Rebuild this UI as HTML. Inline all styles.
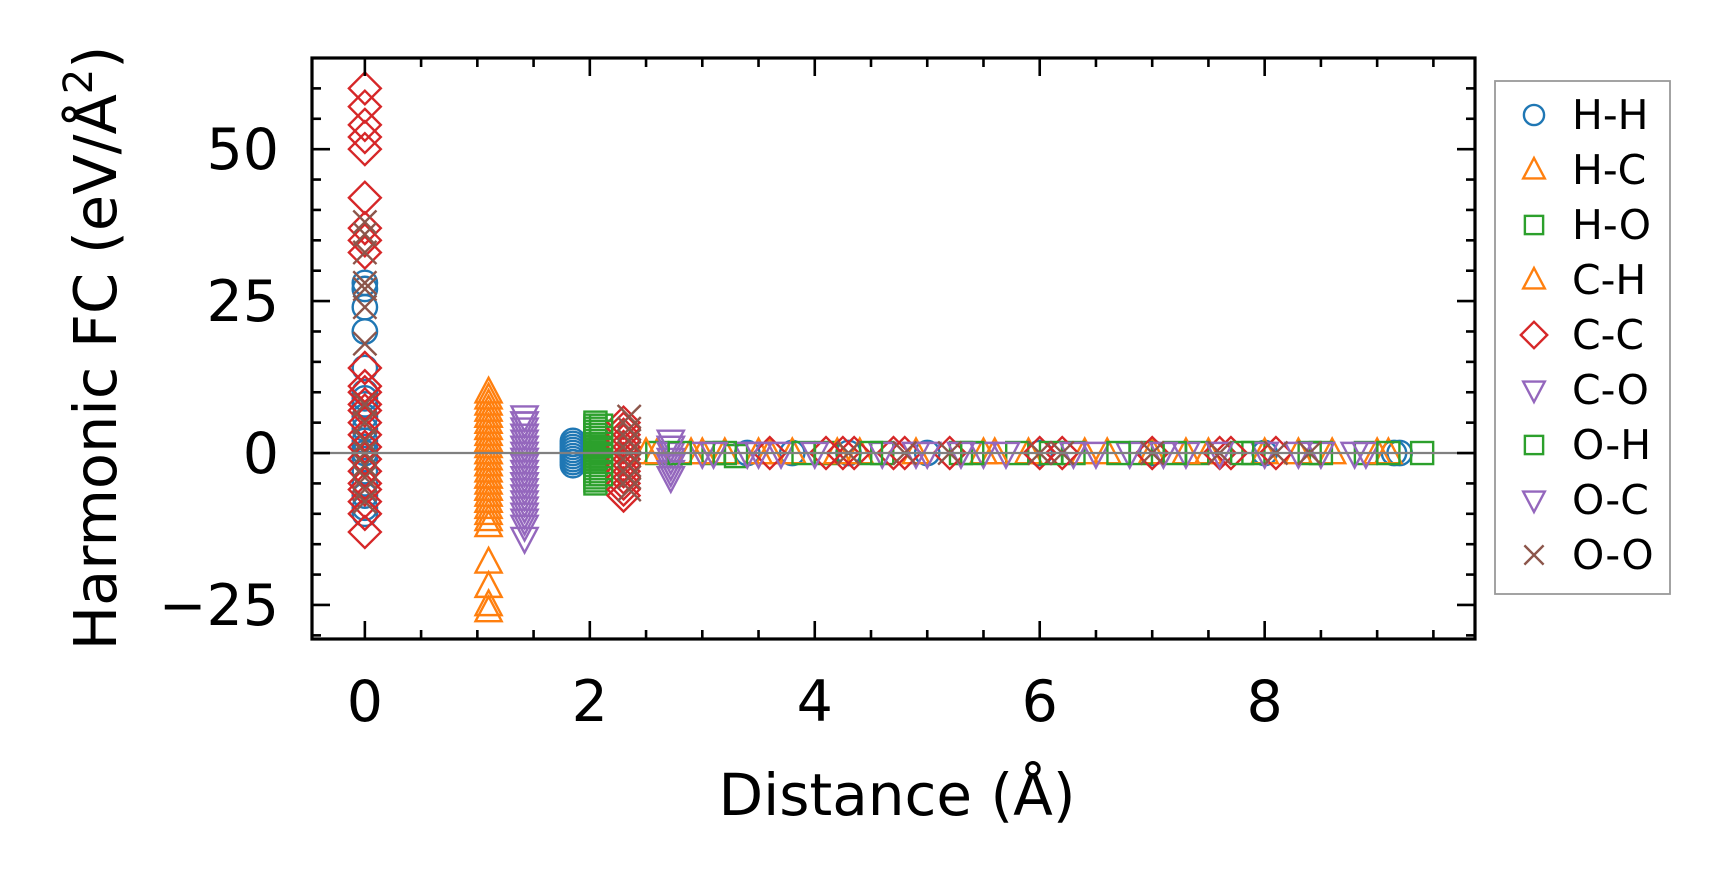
<!DOCTYPE html>
<html><head><meta charset="utf-8"><style>
html,body{margin:0;padding:0;background:#fff;}
svg{display:block;font-family:"DejaVu Sans","Liberation Sans",sans-serif;}
</style></head><body>
<svg id="chart" width="1729" height="883" viewBox="0 0 1729 883" xmlns="http://www.w3.org/2000/svg">
<g id="marks"></g>
<g id="axes"></g>
<text x="897" y="815" font-size="58" text-anchor="middle">Distance (Å)</text>
<text transform="translate(116,348) rotate(-90)" font-size="59" text-anchor="middle">Harmonic FC (eV/Å<tspan font-size="40" dy="-24">2</tspan><tspan dy="24">)</tspan></text>
<g id="legend"></g>
</svg>
<script>
const xMin=-0.47, xMax=9.87, yMin=-30.6, yMax=65;
const xTicks=[0,2,4,6,8];
const yTicks=[-25,0,25,50];
const yTickLabels=["\u221225","0","25","50"];
const seriesNames=["H-H","H-C","H-O","C-H","C-C","C-O","O-H","O-C","O-O"];
const seriesColors=["#1f77b4","#ff7f0e","#2ca02c","#ff7f0e","#d62728","#9467bd","#2ca02c","#9467bd","#8c564b"];
const seriesMarkers=["circle","tri-up","square","tri-up","diamond","tri-down","square","tri-down","x"];
const hhX=[0,0,0,0,0,0,0,0,0,0,0,0,0,0,0,0,0,0,0,1.85,1.85,1.85,1.85,1.85,1.85,1.85,1.85,1.85,3.4,3.8,4.3,5.0,6.0,7.0,8.0,9.15,9.2];
const hhY=[28,27,24,20,14,10,9,8,6,4,2,1,0,-1,-3,-5,-7,-9,-10,2,1.5,1,0.5,0,-0.5,-1,-1.5,-2,0,0,0,0,0,0,0,0,0];
const hcX=[1.1,1.1,1.1,1.1,1.1,1.1,1.1,1.1,1.1,1.1,1.1,1.1,1.1,1.1,1.1,1.1,1.1,1.1,1.1,1.1,1.1,1.1,1.1,1.1,1.1,2.6,2.9,3.2,3.5,3.8,4.4,4.9,5.5,5.9,6.4,7.0,7.5,8.0,8.6,9.1];
const hcY=[10,8,7,6,5,4,3,2,1,0,-1,-2,-3,-4,-5,-6,-7,-8,-9,-10,-12,-18,-22,-25,-26,0,0,0,0,0,0,0,0,0,0,0,0,0,0,0];
const hoX=[2.05,2.05,2.05,2.05,2.05,2.05,2.05,2.05,2.05,2.05,2.05,2.05,2.05,2.05,2.05,2.05,2.05,2.05,2.05,2.05,2.05,2.6,3.1,3.3,4.1,4.6,5.3,5.8,6.3,6.9,7.4,7.9,8.5,8.9,9.4];
const hoY=[5,4.5,4,3.5,3,2.5,2,1.5,1,0.5,0,-0.5,-1,-1.5,-2,-2.5,-3,-3.5,-4,-4.5,-5,0,0,-0.5,0,0,0,0,0,0,0,0,0,0,0];
const chX=[1.1,1.1,1.1,1.1,1.1,1.1,1.1,1.1,1.1,1.1,2.5,3.0,3.6,4.2,5.6,6.6,7.3,8.3,9.0];
const chY=[9,6,4,2,0,-2,-4,-6,-8,-11,0,0,0,0,0,0,0,0,0];
const ccX=[0,0,0,0,0,0,0,0,0,0,0,0,0,0,0,0,0,0,0,0,0,0,0,0,2.3,2.3,2.3,2.3,2.3,2.3,2.3,2.3,2.3,2.3,2.3,2.3,2.3,3.6,4.1,4.25,4.35,4.7,4.8,5.2,6.0,6.2,7.0,7.6,7.7,8.1];
const ccY=[60,57,54,52,50,42,37,35,33,14,11,10,8,7,5,3,1,-1,-3,-5,-6,-8,-10,-13,5,4,3,2,1,0,-1,-2,-3,-4,-5,-6,-7,0,0,0,0,0,0,0,0,0,0,0,0,0];
const coX=[1.42,1.42,1.42,1.42,1.42,1.42,1.42,1.42,1.42,1.42,1.42,1.42,1.42,1.42,1.42,1.42,1.42,2.72,2.72,2.72,2.72,2.72,2.72,2.72,3.0,3.4,3.7,4.6,5.0,5.5,6.5,6.8,7.3,8.0,8.5,8.9];
const coY=[6,5,4,3,2,1,0,-1,-2,-3,-4,-5,-6,-8,-10,-12,-14,2,1,0,-1,-2,-3,-4,0,0,0,0,0,0,0,0,0,0,0,0];
const ohX=[2.1,2.1,2.1,2.1,2.1,2.1,2.1,2.1,2.1,2.8,3.2,3.9,4.5,5.4,6.1,6.7,7.2,7.8,8.4,9.1];
const ohY=[4.5,3.5,2.5,1.5,0.5,-0.5,-1.5,-2.5,-3.5,0,0,0,0,0,0,0,0,0,0,0];
const ocX=[1.42,1.42,1.42,1.42,1.42,1.42,1.42,1.42,1.42,2.72,2.72,3.1,3.5,4.0,4.9,5.3,5.7,6.3,7.1,7.6,8.3,8.8];
const ocY=[5,3,1,-1,-3,-5,-7,-9,-11,1,-2,0,0,0,0,0,0,0,0,0,0,0];
const ooX=[0,0,0,0,0,0,0,0,0,0,0,0,0,0,0,2.35,2.35,2.35,2.35,2.35,2.35,2.35,4.3,4.8,5.2,6.0,6.2,7.0,7.6,8.1,8.4];
const ooY=[38,36,33,28,27,24,18,8,5,2,0,-2,-4,-6,-8,6,4,2,0,-2,-4,-6,0,0,0,0,0,0,0,0,0];
const seriesX=[hhX,hcX,hoX,chX,ccX,coX,ohX,ocX,ooX];
const seriesY=[hhY,hcY,hoY,chY,ccY,coY,ohY,ocY,ooY];

const L=312,R=1475,T=58,B=639;
const NS="http://www.w3.org/2000/svg";
function sx(v){return L+(v-xMin)/(xMax-xMin)*(R-L);}
function sy(v){return B-(v-yMin)/(yMax-yMin)*(B-T);}
function mk(tag,attrs,parent){const e=document.createElementNS(NS,tag);for(const k in attrs)e.setAttribute(k,attrs[k]);parent.appendChild(e);return e;}
function marker(type,cx,cy,color,parent,s){
  let e;
  if(type==="circle") e=mk("circle",{cx:cx,cy:cy,r:s*0.42},parent);
  else if(type==="square") e=mk("rect",{x:cx-s*0.38,y:cy-s*0.38,width:s*0.76,height:s*0.76},parent);
  else if(type==="diamond") e=mk("polygon",{points:`${cx},${cy-s*0.55} ${cx+s*0.55},${cy} ${cx},${cy+s*0.55} ${cx-s*0.55},${cy}`},parent);
  else if(type==="tri-up") e=mk("polygon",{points:`${cx},${cy-s*0.5} ${cx+s*0.45},${cy+s*0.35} ${cx-s*0.45},${cy+s*0.35}`},parent);
  else if(type==="tri-down") e=mk("polygon",{points:`${cx},${cy+s*0.5} ${cx+s*0.45},${cy-s*0.35} ${cx-s*0.45},${cy-s*0.35}`},parent);
  else {e=mk("path",{d:`M${cx-s*0.4},${cy-s*0.4}L${cx+s*0.4},${cy+s*0.4}M${cx-s*0.4},${cy+s*0.4}L${cx+s*0.4},${cy-s*0.4}`},parent);}
  e.setAttribute("fill","none");e.setAttribute("stroke",color);e.setAttribute("stroke-width","2.4");
  return e;
}
const marks=document.getElementById("marks");
for(let i=0;i<seriesNames.length;i++){
  const g=mk("g",{},marks);
  
  
  for(let j=0;j<seriesX[i].length;j++){
    const m=marker(seriesMarkers[i],sx(seriesX[i][j]),sy(seriesY[i][j]),seriesColors[i],g,29);
    
    
  }
}
const axes=document.getElementById("axes");
const zl=mk("line",{x1:L,x2:R,y1:sy(0),y2:sy(0),stroke:"#808080","stroke-width":2.2},axes);


const frame=mk("rect",{x:L,y:T,width:R-L,height:B-T,fill:"none",stroke:"#000","stroke-width":3.2},axes);


for(let v=0;v<=9.5;v+=0.5){
  const x=sx(v),len=(Math.abs(v%2)<1e-9)?18:9;
  mk("line",{x1:x,x2:x,y1:B,y2:B-len,stroke:"#000","stroke-width":2.6},axes);
  mk("line",{x1:x,x2:x,y1:T,y2:T+len,stroke:"#000","stroke-width":2.6},axes);
}
for(let v=-30;v<=65;v+=5){
  const y=sy(v),len=(Math.abs(v%25)<1e-9)?18:9;
  mk("line",{x1:L,x2:L+len,y1:y,y2:y,stroke:"#000","stroke-width":2.6},axes);
  mk("line",{x1:R,x2:R-len,y1:y,y2:y,stroke:"#000","stroke-width":2.6},axes);
}
xTicks.forEach(v=>{
  const t=mk("text",{x:sx(v),y:721,"font-size":57,"text-anchor":"middle"},axes);
  t.textContent=String(v);
  
  
});
yTicks.forEach((v,i)=>{
  const t=mk("text",{x:279,y:sy(v)+20,"font-size":57,"text-anchor":"end"},axes);
  t.textContent=yTickLabels[i];
  
  
});
const leg=document.getElementById("legend");
const lb=mk("rect",{x:1495,y:81,width:175,height:513,fill:"#fff",stroke:"#999","stroke-width":1.8},leg);


seriesNames.forEach((n,i)=>{
  const y=115+i*55;
  const g=mk("g",{},leg);
  
  
  marker(seriesMarkers[i],1534,y,seriesColors[i],g,24);
  const t=mk("text",{x:1572,y:y+14,"font-size":41},g);
  t.textContent=n;
});
</script>
</body></html>
